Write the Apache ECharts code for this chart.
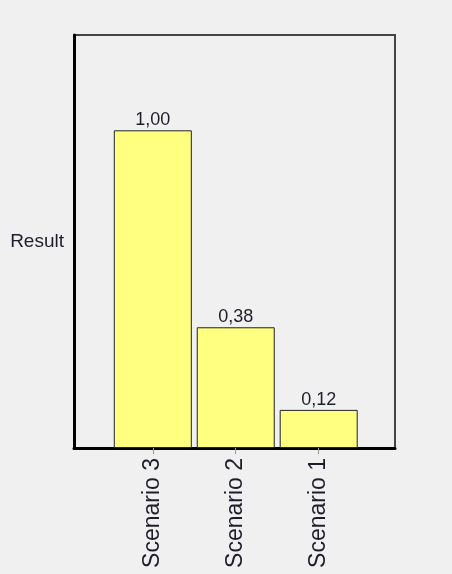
<!DOCTYPE html>
<html lang="en">
<head>
    <meta charset="utf-8">
    <title>Result</title>
    <style>
        html, body { margin: 0; padding: 0; background: #f0f0f0; }
        #chart { width: 452px; height: 574px; }
    </style>
</head>
<body>
    <div id="chart"></div>
    <script src="https://cdn.jsdelivr.net/npm/echarts@6/dist/echarts.min.js"></script>
    <script type="text/javascript">
        // data
        var categories = ['Scenario 3', 'Scenario 2', 'Scenario 1'];
        var values = [1.00, 0.38, 0.12];
        var positions = [1, 2, 3];

        var chart = echarts.init(document.getElementById('chart'));
        var font = 'Arial, "Liberation Sans", sans-serif';

        var option = {
            backgroundColor: '#f0f0f0',
            animation: false,
            grid: {
                left: 74, right: 57, top: 35, bottom: 126,
                show: true,
                borderColor: '#444',
                borderWidth: 2,
                backgroundColor: 'transparent'
            },
            xAxis: {
                type: 'value',
                min: 0.05,
                max: 3.92,
                splitLine: { show: false },
                axisLine: { show: true, onZero: false, lineStyle: { color: '#000', width: 3 } },
                axisTick: {
                    show: true,
                    customValues: positions,
                    length: 6,
                    lineStyle: { color: '#999', width: 1 }
                },
                axisLabel: {
                    customValues: positions,
                    rotate: 90,
                    margin: 10,
                    fontFamily: font,
                    fontSize: 23,
                    color: '#1e1e2a',
                    formatter: function (v) { return categories[positions.indexOf(v)] || ''; }
                }
            },
            yAxis: {
                type: 'value',
                min: 0,
                max: 1.3,
                name: 'Result',
                nameLocation: 'middle',
                nameRotate: 0,
                nameGap: 10,
                nameTextStyle: { fontFamily: font, fontSize: 19, color: '#1e1e2a' },
                splitLine: { show: false },
                axisTick: { show: false },
                axisLabel: { show: false },
                axisLine: { show: true, lineStyle: { color: '#000', width: 3 } }
            },
            series: [{
                type: 'bar',
                barWidth: 78,
                data: positions.map(function (p, i) { return [p, values[i]]; }),
                itemStyle: { color: '#ffff80', borderColor: '#222', borderWidth: 1 },
                label: {
                    show: true,
                    position: 'top',
                    distance: 1,
                    fontFamily: font,
                    fontSize: 18,
                    color: '#1e1e2a',
                    formatter: function (p) { return p.value[1].toFixed(2).replace('.', ','); }
                }
            }]
        };
        chart.setOption(option);
    </script>
</body>
</html>
